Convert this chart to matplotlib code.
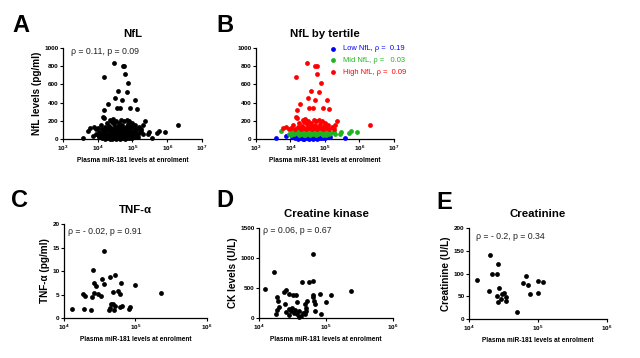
import numpy as np
import matplotlib
matplotlib.use('Agg')
import matplotlib.pyplot as plt
from matplotlib.ticker import FixedLocator, NullLocator, FuncFormatter

plt.rcParams['font.family'] = ['Liberation Sans', 'DejaVu Sans']
plt.rcParams['mathtext.fontset'] = 'custom'
plt.rcParams['mathtext.rm'] = 'Liberation Sans:bold'
plt.rcParams['mathtext.it'] = 'Liberation Sans:bold'

# NfL data split by tertile (x stored as log10 of miR-181 level)
low_log_mir = [3.59, 5.57, 3.86, 4.05, 4.12, 4.15, 4.18, 4.22, 4.25, 4.28, 4.30, 4.33, 4.35, 4.36,
               4.38, 4.40, 4.42, 4.45, 4.47, 4.48, 4.50, 4.52, 4.54, 4.56, 4.58, 4.60, 4.62, 4.64,
               4.65, 4.66, 4.68, 4.70, 4.72, 4.74, 4.76, 4.78, 4.80, 4.82, 4.84, 4.85, 4.86, 4.88,
               4.90, 4.93, 4.96, 5.00, 5.04, 5.08, 5.15]
low_nfl = [8, 14, 30, 20, 12, 38, 25, 5, 30, 15, 38, 8, 2, 22,
           35, 3, 18, 28, 10, 40, 36, 20, 4, 30, 14, 25, 6, 38,
           2, 18, 28, 9, 33, 15, 24, 4, 36, 12, 27, 38, 20, 7,
           32, 16, 26, 10, 30, 18, 22]

mid_log_mir = [3.73, 3.95, 4.02, 4.05, 4.10, 4.14, 4.18, 4.20, 4.22, 4.25, 4.28, 4.31, 4.34, 4.37,
               4.40, 4.42, 4.43, 4.46, 4.49, 4.52, 4.55, 4.57, 4.58, 4.60, 4.63, 4.66, 4.69, 4.72,
               4.75, 4.76, 4.78, 4.81, 4.84, 4.87, 4.90, 4.93, 4.95, 4.96, 5.00, 5.04, 5.08, 5.12,
               5.18, 5.25, 5.30, 5.44, 5.47, 5.70, 5.76, 5.93]
mid_nfl = [88, 60, 42, 75, 50, 95, 65, 102, 80, 45, 100, 58, 85, 70,
           48, 43, 92, 62, 78, 55, 98, 42, 85, 72, 88, 52, 66, 95,
           45, 100, 80, 60, 102, 70, 50, 88, 42, 62, 76, 48, 90, 58,
           70, 85, 52, 58, 72, 70, 91, 77]

high_log_mir = [4.47, 4.72, 4.76, 4.78, 4.17, 4.88, 4.59, 4.83, 4.50, 4.70, 5.06, 4.29, 4.55, 4.65,
                4.19, 4.94, 5.12,
                3.78, 3.88, 3.95, 4.02, 4.08, 4.12, 4.16, 4.19, 4.22, 4.26, 4.30, 4.32, 4.35, 4.38,
                4.40, 4.43, 4.46, 4.48, 4.50, 4.52, 4.55, 4.58, 4.60, 4.62, 4.65, 4.67, 4.70, 4.72,
                4.75, 4.78, 4.80, 4.83, 4.86, 4.88, 4.91, 4.94, 4.97, 5.00, 5.04, 5.08, 5.12, 5.20,
                5.25, 5.29, 5.36, 6.30]
high_nfl = [832, 805, 800, 715, 678, 620, 528, 520, 447, 429, 429, 385, 337, 340,
            319, 337, 333,
            118, 135, 110, 125, 150, 112, 240, 230, 130, 175, 115, 145, 210, 125,
            190, 225, 110, 160, 130, 200, 118, 140, 175, 112, 128, 210, 150, 120,
            195, 108, 135, 210, 165, 125, 200, 115, 140, 180, 120, 150, 110, 130,
            112, 150, 198, 154]

tertile_names = ['Low NfL', 'Mid NfL', 'High NfL']
tertile_rho = ['0.19', '0.03', '0.09']
tertile_colors = ['#0000ff', '#1fb41f', '#ff0000']

tnf_log_mir = [4.11, 4.28, 4.38, 4.26, 4.30, 4.40, 4.39, 4.42, 4.42, 4.45, 4.47, 4.52, 4.53, 4.56,
               4.56, 4.64, 4.72, 4.68, 4.75, 4.78, 4.80, 4.68, 4.63, 4.65, 4.70, 4.72, 4.66, 4.81,
               4.79, 4.91, 4.92, 4.99, 5.35]
tnf_levels = [1.85, 1.98, 1.77, 5.04, 4.6, 10.2, 4.4, 5.4, 7.4, 6.8, 5.2, 4.6, 8.2, 7.2,
              14.3, 8.7, 9.1, 5.6, 5.7, 5.1, 7.5, 2.9, 1.7, 2.2, 1.8, 2.5, 3.0, 2.6,
              2.3, 1.85, 2.3, 7.1, 5.4]

ck_log_mir = [4.80, 4.22, 4.09, 4.64, 4.75, 4.81, 5.37, 4.41, 4.38, 5.08, 4.91, 4.45, 4.50, 4.55,
              4.80, 4.81, 4.27, 5.00, 4.29, 4.72, 4.82, 4.83, 4.39, 4.57, 4.69, 4.30, 4.27, 4.26,
              4.45, 4.41, 4.45, 4.48, 4.52, 4.53, 4.57, 4.59, 4.62, 4.65, 4.68, 4.70, 4.60, 4.83,
              4.93, 4.49, 4.70]
ck_levels = [1072, 772, 478, 605, 605, 622, 450, 467, 430, 378, 400, 400, 385, 385,
             380, 350, 355, 272, 283, 283, 280, 240, 228, 262, 238, 178, 133, 67,
             150, 100, 50, 120, 80, 140, 60, 110, 30, 90, 70, 120, 15, 120,
             70, 170, 160]

crea_log_mir = [4.12, 4.31, 4.42, 4.34, 4.41, 4.29, 4.43, 4.41, 4.42, 4.47, 4.48, 4.51, 4.53, 4.53,
                4.69, 4.83, 4.78, 4.85, 4.89, 4.995, 5.07, 5.00]
crea_levels = [85, 141, 120, 98, 100, 61, 69, 51, 38, 45, 55, 58, 48, 40,
               15, 95, 79, 75, 55, 84, 81, 58]

XLABEL = 'Plasma miR-181 levels at enrolment'


def log_fmt(v, pos):
    return r'$10^{%d}$' % int(round(np.log10(v)))


def style_axes(ax, xdec, yticks, ylabel, title):
    ax.set_xscale('log')
    ax.set_xlim(10.0 ** xdec[0], 10.0 ** xdec[-1])
    ax.set_ylim(yticks[0], yticks[-1])
    ax.xaxis.set_major_locator(FixedLocator([10.0 ** d for d in xdec]))
    ax.xaxis.set_minor_locator(NullLocator())
    ax.xaxis.set_major_formatter(FuncFormatter(log_fmt))
    ax.set_yticks(yticks)
    for s in ['top', 'right']:
        ax.spines[s].set_visible(False)
    for s in ['left', 'bottom']:
        ax.spines[s].set_linewidth(0.9)
    ax.tick_params(length=2.2, width=0.8, pad=1, labelsize=4.6)
    for lab in ax.get_yticklabels():
        lab.set_fontweight('bold')
    ax.set_xlabel(XLABEL, fontsize=4.7, fontweight='bold', labelpad=3)
    ax.set_ylabel(ylabel, fontsize=7.2, fontweight='bold', labelpad=2)
    ax.set_title(title, fontsize=8.2, fontweight='bold', pad=8)


def dots(ax, logx, y, color='k'):
    ax.scatter(10.0 ** np.array(logx), y, s=12, color=color, linewidths=0,
               clip_on=False, zorder=3)


fig = plt.figure(figsize=(6.4, 3.58), dpi=100)

# A
axA = fig.add_axes([0.0984, 0.6117, 0.2172, 0.2542])
dots(axA, low_log_mir + mid_log_mir + high_log_mir, low_nfl + mid_nfl + high_nfl)
style_axes(axA, [3, 4, 5, 6, 7], [0, 200, 400, 600, 800, 1000], 'NfL levels (pg/ml)', 'NfL')
axA.text(0.058, 0.965, 'ρ = 0.11, p = 0.09', transform=axA.transAxes, fontsize=6.3,
         va='center', ha='left', color='#222222')

# B
axB = fig.add_axes([0.4, 0.6117, 0.2156, 0.2542])
groups = [(low_log_mir, low_nfl), (mid_log_mir, mid_nfl), (high_log_mir, high_nfl)]
for (gx, gy), col in zip(groups, tertile_colors):
    dots(axB, gx, gy, color=col)
style_axes(axB, [3, 4, 5, 6, 7], [0, 200, 400, 600, 800, 1000], '', 'NfL by tertile')
pad = {'0.19': '  ', '0.03': '   ', '0.09': '  '}
for i, (name, rho, col) in enumerate(zip(tertile_names, tertile_rho, tertile_colors)):
    yy = 0.99 - i * 0.127
    axB.scatter([0.556], [yy], s=12, color=col, linewidths=0, transform=axB.transAxes,
                clip_on=False)
    axB.text(0.63, yy, name + ', ρ =' + pad[rho] + rho, transform=axB.transAxes,
             fontsize=5.4, color=col, va='center', ha='left')

# C
axC = fig.add_axes([0.1, 0.1117, 0.2234, 0.2626])
dots(axC, tnf_log_mir, tnf_levels)
style_axes(axC, [4, 5, 6], [0, 5, 10, 15, 20], 'TNF-α (pg/ml)', 'TNF-α')
axC.text(0.03, 0.92, 'ρ = - 0.02, p = 0.91', transform=axC.transAxes, fontsize=6.3,
         va='center', ha='left', color='#222222')

# D
axD = fig.add_axes([0.4047, 0.1117, 0.2094, 0.2514])
dots(axD, ck_log_mir, ck_levels)
style_axes(axD, [4, 5, 6], [0, 500, 1000, 1500], 'CK levels (U/L)', 'Creatine kinase')
axD.text(0.03, 0.975, 'ρ = 0.06, p = 0.67', transform=axD.transAxes, fontsize=6.3,
         va='center', ha='left', color='#222222')

# E
axE = fig.add_axes([0.7328, 0.1089, 0.2156, 0.2542])
dots(axE, crea_log_mir, crea_levels)
style_axes(axE, [4, 5, 6], [0, 50, 100, 150, 200], 'Creatinine (U/L)', 'Creatinine')
axE.text(0.05, 0.905, 'ρ = - 0.2, p = 0.34', transform=axE.transAxes, fontsize=6.3,
         va='center', ha='left', color='#222222')

# panel letters
for lab, x, y in [('A', 0.019, 0.93), ('B', 0.338, 0.93), ('C', 0.017, 0.44),
                  ('D', 0.338, 0.44), ('E', 0.682, 0.435)]:
    fig.text(x, y, lab, fontsize=17, fontweight='bold', va='center', ha='left')

fig.savefig('out.png', dpi=100)
